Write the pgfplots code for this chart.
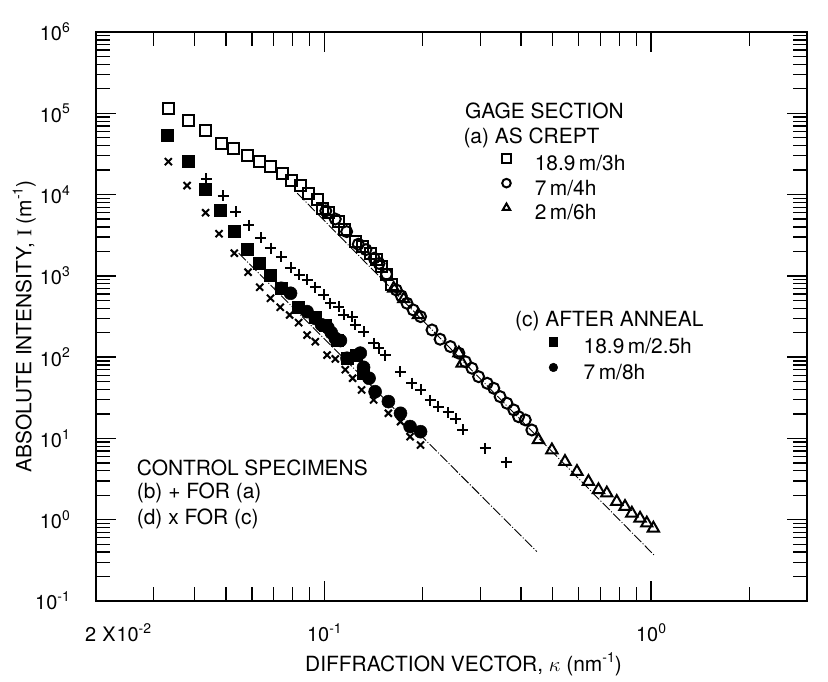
\documentclass[border=0pt]{standalone}
\usepackage{pgfplots}
\pgfplotsset{compat=1.18}
\usepackage{pgfplotstable}
\usepackage{fontspec}
\setmainfont{TeX Gyre Heros}
\newfontfamily\seriffont{Liberation Serif}
\newcommand\sups[1]{\raisebox{0.8ex}{\fontsize{14}{14}\selectfont #1}}

\pgfplotstableread{
k I
0.0333 1.13e5
0.0383 8.1e4
0.0433 6.1e4
0.0483 4.28e4
0.0528 3.74e4
0.0580 3.04e4
0.0634 2.54e4
0.0684 2.20e4
0.0743 1.83e4
0.0791 1.48e4
0.0845 1.28e4
0.0895 1.04e4
0.0950 8.6e3
0.0985 6.8e3
0.1030 6.0e3
0.1106 4.6e3
0.1154 3.67e3
0.1245 2.64e3
0.1310 2.27e3
0.1384 1.90e3
0.1440 1.57e3
0.1500 1.30e3
0.1550 1.03e3
0.1610 773
}\sqopen

\pgfplotstableread{
k I
0.101 6.3e3
0.108 5.0e3
0.117 3.5e3
0.127 2.45e3
0.134 2.1e3
0.142 1.65e3
0.147 1.42e3
0.155 1.05e3
0.166 671
0.172 567
0.179 460
0.187 381
0.197 315
0.2135 216
0.226 166
0.243 135
0.258 112
0.270 88
0.283 73
0.2965 57.5
0.315 47.7
0.330 41.4
0.345 32.7
0.362 27.1
0.380 22.4
0.393 18.5
0.412 16.9
0.4315 12.7
}\ciopen

\pgfplotstableread{
k I
0.163 700
0.175 520
0.194 330
0.258 112
0.264 84
0.452 9.6
0.497 7.2
0.545 5.19
0.593 3.91
0.643 2.94
0.690 2.33
0.732 2.12
0.785 1.67
0.832 1.45
0.873 1.20
0.925 1.04
0.970 0.906
1.016 0.785
}\triopen

\pgfplotstableread{
k I
0.0331 5.41e4
0.0382 2.54e4
0.0433 1.16e4
0.0481 6.47e3
0.0528 3.50e3
0.0580 2.12e3
0.0632 1.43e3
0.0683 1.03e3
0.0738 700
0.0834 411
0.0938 310
0.1007 249
0.1093 163
0.1173 97
0.1250 105
0.1318 63
}\sqfill

\pgfplotstableread{
k I
0.0738 703
0.0788 611
0.0885 363
0.0938 300
0.0980 250
0.1025 230
0.1050 200
0.1080 170
0.1120 160
0.1173 97
0.1288 112
0.1318 75
0.1370 55
0.1430 37.6
0.1570 28.4
0.1710 20.4
0.1830 14.0
0.1970 12.1
}\cifill

\pgfplotstableread{
k I
0.0333 2.54e4
0.0380 1.29e4
0.0433 5.98e3
0.0476 3.30e3
0.0530 1.90e3
0.0584 1.11e3
0.0634 725
0.0684 530
0.0733 411
0.0783 330
0.0834 266
0.0885 187
0.0938 155
0.1019 106
0.1080 95
0.1159 70
0.1220 55
0.1300 39.5
0.1415 29.8
0.1570 20.4
0.1710 16.1
0.1830 10.5
0.1970 8.3
}\xctrl

\pgfplotstableread{
k I
0.0435 1.56e4
0.0490 9.66e3
0.0536 6.16e3
0.0586 4.17e3
0.0638 2.94e3
0.0685 2.19e3
0.0738 1.72e3
0.0789 1.26e3
0.0837 1.03e3
0.0885 891
0.0938 725
0.0995 582
0.1043 460
0.1106 418
0.1146 330
0.1216 315
0.1245 249
0.1318 206
0.1415 148
0.1466 129
0.1537 106
0.1708 66
0.1853 47.8
0.1970 39.5
0.2110 29.3
0.2230 24.6
0.2390 20.9
0.2520 17.4
0.2655 12.7
0.3110 7.57
0.3600 5.09
}\pctrl

\pgfplotsset{
  mleg/.style={legend image code/.code={\draw[##1, mark size=4.3bp] plot coordinates {(0bp,5bp)};}},
  every axis/.append style={
    scale only axis,
    width=711bp, height=569bp,
    xmode=log, ymode=log,
    xmin=0.02, xmax=3, ymin=0.1, ymax=1e6,
  },
}

\begin{document}
\begin{tikzpicture}[font=\fontsize{21}{25}\selectfont]
\useasboundingbox (-96bp,-81bp) rectangle (732bp,601bp);
\begin{axis}[at={(0bp,0bp)}, anchor=south west,
  axis line style={line width=1.8bp},
  tick style={line width=1.3bp, black},
  major tick length=20bp, minor tick length=14bp,
  xtick={0.1,1}, xticklabels={10\sups{-1},10\sups{0}},
  minor xtick={0.03,0.04,0.05,0.06,0.07,0.08,0.09,0.2,0.3,0.4,0.5,0.6,0.7,0.8,0.9,2},
  ytick={0.1,1,10,100,1000,10000,100000,1000000},
  yticklabels={10\sups{-1},10\sups{0},10\sups{1},10\sups{2},10\sups{3},10\sups{4},10\sups{5},10\sups{6}},
  minor ytick={0.2,0.3,0.4,0.5,0.6,0.7,0.8,0.9,2,3,4,5,6,7,8,9,20,30,40,50,60,70,80,90,200,300,400,500,600,700,800,900,2000,3000,4000,5000,6000,7000,8000,9000,20000,30000,40000,50000,60000,70000,80000,90000,200000,300000,400000,500000,600000,700000,800000,900000},
  xticklabel style={font=\fontsize{20}{24}\selectfont, inner sep=0pt, anchor=base, yshift=-40.7bp},
  yticklabel style={font=\fontsize{20}{24}\selectfont, inner sep=0pt, anchor=east, xshift=-26bp},
  legend style={at={(0.5710,0.7264)}, anchor=west, draw=none, fill=none, inner sep=0pt,
    row sep=7bp, column sep=24bp, nodes={inner sep=0pt}, font=\fontsize{21}{25}\selectfont},
  legend cell align=left,
]
\addplot[only marks, mark=square, mark size=5.5bp, line width=2bp, mleg] table {\sqopen};
\addlegendentry{18.9\,m/3h}
\addplot[only marks, mark=o, mark size=5.5bp, line width=2bp, mleg] table {\ciopen};
\addlegendentry{7\,m/4h}
\addplot[only marks, mark=triangle, mark size=6.5bp, line width=2bp, mleg] table {\triopen};
\addlegendentry{2\,m/6h}
\addplot[only marks, mark=+, mark size=5.5bp, line width=2bp, forget plot] table {\pctrl};
\addplot[only marks, mark=x, mark size=5bp, line width=2bp, forget plot] table {\xctrl};
\addplot[line width=0.9bp, dash pattern=on 10bp off 2bp on 1bp off 2bp, forget plot] coordinates {(0.0826,1.04e4) (1.02,0.369)};
\addplot[line width=0.9bp, dash pattern=on 10bp off 2bp on 1bp off 2bp, forget plot] coordinates {(0.0547,1900) (0.447,0.406)};
\end{axis}
\begin{axis}[at={(0bp,0bp)}, anchor=south west, hide axis,
  legend style={at={(0.637,0.425)}, anchor=west, draw=none, fill=none, inner sep=0pt,
    row sep=8bp, column sep=26bp, nodes={inner sep=0pt}, font=\fontsize{21}{25}\selectfont},
  legend cell align=left,
]
\addplot[only marks, mark=square*, mark size=6bp, line width=0.5bp, mleg] table {\sqfill};
\addlegendentry{18.9\,m/2.5h}
\addplot[only marks, mark=*, mark size=6.5bp, line width=0.5bp, mleg] table {\cifill};
\addlegendentry{7\,m/8h}
\end{axis}
\node[anchor=base west, inner sep=0pt] at (369bp,482.7bp) {GAGE SECTION};
\node[anchor=base west, inner sep=0pt] at (367.3bp,457.3bp) {(a) AS CREPT};
\node[anchor=base west, inner sep=0pt] at (419bp,274bp) {(c) AFTER ANNEAL};
\node[anchor=base west, inner sep=0pt] at (40.7bp,125bp) {CONTROL SPECIMENS};
\node[anchor=base west, inner sep=0pt] at (40.7bp,102.5bp) {(b) + FOR (a)};
\node[anchor=base west, inner sep=0pt] at (40.7bp,76bp) {(d) x FOR (c)};
\node[anchor=base west, inner sep=0pt, font=\fontsize{20}{24}\selectfont] at (-11bp,-40.7bp) {2\hspace{0.3em}X\hspace{0.05em}10\sups{-2}};
\node[anchor=base, inner sep=0pt] at (367.5bp,-70.7bp) {DIFFRACTION VECTOR, $\kappa$ (nm\sups{-1})};
\node[anchor=base, inner sep=0pt, rotate=90] at (-64.5bp,274.5bp) {ABSOLUTE INTENSITY, {\seriffont I} (m\sups{-1})};
\end{tikzpicture}
\end{document}
